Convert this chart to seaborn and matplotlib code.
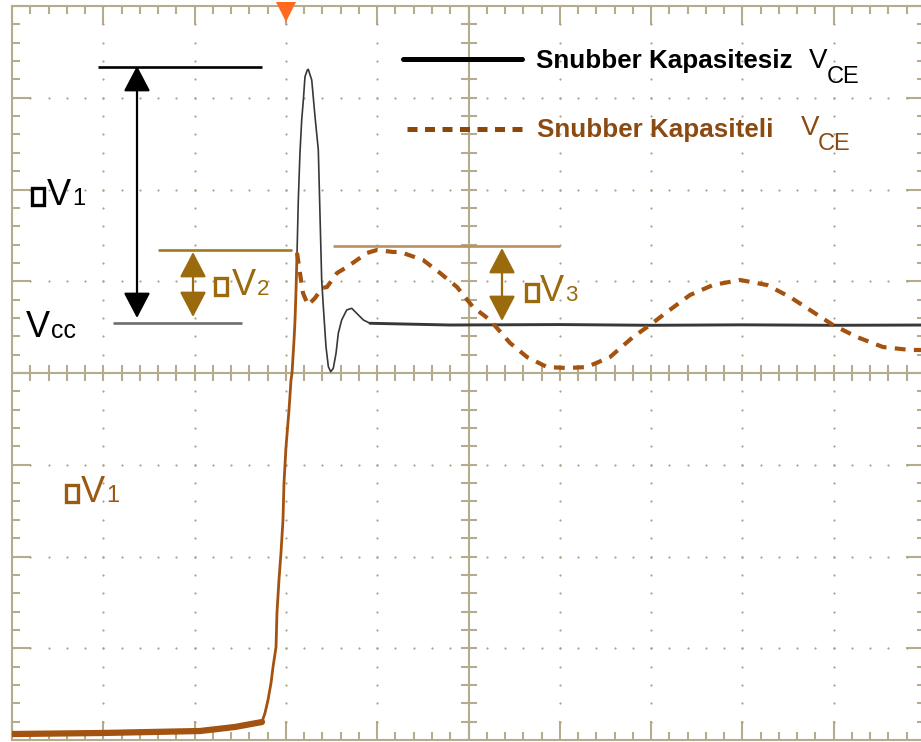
import numpy as np
import pandas as pd
import matplotlib
matplotlib.use("Agg")
import matplotlib.pyplot as plt
from matplotlib.patches import Rectangle
import seaborn as sns

# ---- data (time in screen divisions 0..10, voltage in divisions -4..4) ----
rise_t = [0.000, 0.964, 2.059, 2.442, 2.738, 2.771, 2.804, 2.837, 2.859, 2.892,
          2.902, 2.924, 2.946, 2.968, 2.979, 3.001, 3.034, 3.056, 3.067, 3.089,
          3.100, 3.111, 3.122]
rise_v = [-3.935, -3.924, -3.902, -3.858, -3.804, -3.706, -3.564, -3.379, -3.204, -2.986,
          -2.616, -2.256, -1.962, -1.602, -1.199, -0.807, -0.403, -0.076, 0.000, 0.360,
          0.578, 0.905, 1.308]

# Snubber Kapasitesiz V_CE (black) after the common rise
black_t = [3.136, 3.154, 3.173, 3.191, 3.209, 3.234, 3.245, 3.283, 3.319, 3.355,
           3.373, 3.392, 3.410, 3.439, 3.465, 3.491, 3.519, 3.549, 3.574, 3.611,
           3.666, 3.721, 3.775, 3.848, 3.921]
black_v = [1.886, 2.398, 2.757, 2.975, 3.229, 3.302, 3.310, 3.193, 2.793, 2.431,
           1.741, 1.014, 0.723, 0.287, 0.069, 0.014, 0.051, 0.215, 0.433, 0.578,
           0.687, 0.705, 0.651, 0.578, 0.542]
settled_t = [3.921, 4.797, 6.000, 7.000, 8.000, 9.000, 10.000]
settled_v = [0.542, 0.523, 0.528, 0.520, 0.525, 0.520, 0.523]

# Snubber Kapasiteli V_CE (brown) after the common rise
brown_t = [3.122, 3.154, 3.187, 3.242, 3.319, 3.395, 3.450, 3.560, 3.669, 3.779,
           3.888, 3.998, 4.173, 4.250, 4.502, 4.688, 4.874, 5.049, 5.235, 5.455,
           5.641, 5.860, 6.079, 6.298, 6.550, 6.802, 6.988, 7.174, 7.426, 7.678,
           7.974, 8.270, 8.521, 8.740, 8.992, 9.255, 9.540, 9.836, 10.000]
brown_v = [1.308, 1.090, 0.872, 0.741, 0.817, 0.926, 0.937, 1.090, 1.155, 1.232,
           1.308, 1.341, 1.319, 1.319, 1.232, 1.090, 0.937, 0.719, 0.578, 0.327,
           0.174, 0.065, 0.054, 0.065, 0.174, 0.392, 0.523, 0.665, 0.850, 0.959,
           1.014, 0.959, 0.828, 0.687, 0.523, 0.392, 0.283, 0.251, 0.251]

legend_labels = ["Snubber Kapasitesiz", "Snubber Kapasiteli"]

# ---- style ----
sns.set_style("white")
plt.rcParams["font.family"] = ["Liberation Sans", "DejaVu Sans"]

FRAME = "#b4ac8c"
DOT = "#aaa486"
BROWN = "#a3520f"
LEG_BROWN = "#8c4608"
TXT_BROWN = "#8b4a12"
GOLD = "#9a6a0c"
GOLD_LINE = "#a27a1c"
V3_LINE = "#b8925e"
BLACK = "#383838"

W, H = 921, 742
fig = plt.figure(figsize=(W / 100, H / 100), dpi=100)
fig.patch.set_facecolor("white")
X0, DX = 12.0, 91.3
Y0, DY = 373.0, 91.75
ax = fig.add_axes([X0 / W, (H - 740) / H, 913 / W, 734 / H])
ax.set_xlim(0, 10)
ax.set_ylim(-4, 4)
ax.set_facecolor("white")


def P(px, py):
    return (px - X0) / DX, (Y0 - py) / DY


# frame & ticks
for s in ax.spines.values():
    s.set_color(FRAME)
    s.set_linewidth(1.5)
ax.set_xticks(np.arange(0, 11, 1))
ax.set_yticks(np.arange(-4, 5, 1))
ax.set_xticks(np.arange(0, 10.01, 0.2), minor=True)
ax.set_yticks(np.arange(-4, 4.01, 0.2), minor=True)
ax.tick_params(which="both", direction="in", top=True, right=True, bottom=True, left=True,
               labelbottom=False, labelleft=False, color=FRAME, width=1.5)
ax.tick_params(which="major", length=14)
ax.tick_params(which="minor", length=5.8)

# dotted graticule
fine = np.round(np.arange(-4, 4.01, 0.2), 3)
finex = np.round(np.arange(0, 10.01, 0.2), 3)
for gx in [1, 2, 3, 4, 6, 7, 8, 9]:
    ax.plot(np.full_like(fine, gx), fine, ls="none", marker="o", ms=1.6, color=DOT, mew=0, zorder=1)
for gy in [-3, -2, -1, 1, 2, 3]:
    ax.plot(finex, np.full_like(finex, gy), ls="none", marker="o", ms=1.6, color=DOT, mew=0, zorder=1)

# center cross with ticks
ax.axvline(5, color=FRAME, lw=1.5, zorder=1)
ax.axhline(0, color=FRAME, lw=1.5, zorder=1)
ax.plot(finex, np.zeros_like(finex), ls="none", marker="|", ms=11.5, mew=1.5, color=FRAME, zorder=1)
ax.plot(np.full_like(fine, 5.0), fine, ls="none", marker="_", ms=11.5, mew=1.5, color=FRAME, zorder=1)

# ---- traces (seaborn) ----
df_rise = pd.DataFrame({"t": rise_t, "v": rise_v})
df_black = pd.DataFrame({"t": [rise_t[-1]] + black_t, "v": [rise_v[-1]] + black_v})
df_settled = pd.DataFrame({"t": settled_t, "v": settled_v})
df_brown = pd.DataFrame({"t": brown_t, "v": brown_v})

sns.lineplot(data=df_black, x="t", y="v", ax=ax, color=BLACK, lw=1.2,
             estimator=None, sort=False, legend=False, zorder=3)
sns.lineplot(data=df_settled, x="t", y="v", ax=ax, color=BLACK, lw=2.1,
             estimator=None, sort=False, legend=False, zorder=3)
sns.lineplot(data=df_brown, x="t", y="v", ax=ax, color=BROWN, lw=3.0,
             linestyle=(0, (2.6, 2.0)), estimator=None, sort=False, legend=False, zorder=4)
sns.lineplot(data=df_rise, x="t", y="v", ax=ax, color=BROWN, lw=2.0,
             estimator=None, sort=False, legend=False, zorder=4)
sns.lineplot(data=df_rise.iloc[:5], x="t", y="v", ax=ax, color=BROWN, lw=4.5,
             estimator=None, sort=False, legend=False, zorder=4)
ax.set_xlabel("")
ax.set_ylabel("")


# ---- annotations ----
def hline(x1, x2, y, color, lw=1.9):
    a, b = P(x1, y)
    c, _ = P(x2, y)
    ax.plot([a, c], [b, b], color=color, lw=lw, solid_capstyle="butt", zorder=5)


def darrow(x, y1, y2, color):
    a, b = P(x, y1)
    _, d = P(x, y2)
    ax.annotate("", xy=(a, d), xytext=(a, b),
                arrowprops=dict(arrowstyle="<|-|>,head_length=1.05,head_width=0.55",
                                mutation_scale=15, lw=1.6, color=color,
                                shrinkA=0, shrinkB=0), zorder=5)


def dlabel(px, py, sub, color, box_x, big=26, small=17):
    # box glyph
    bx, by = P(box_x, py)
    bx2, by2 = P(box_x + 12, py - 17)
    ax.add_patch(Rectangle((bx, by), bx2 - bx, by2 - by, fill=False, ec=color, lw=2.4, zorder=6))
    x, y = P(px, py)
    ax.text(x, y, "V", color=color, fontsize=big, va="baseline", ha="left", zorder=6)
    x2, _ = P(px + 25, py)
    ax.text(x2, y, sub, color=color, fontsize=small, va="baseline", ha="left", zorder=6)


hline(98, 262, 66.5, "black", lw=1.9)
hline(113, 242, 323, "#6e6e6e", lw=1.9)
darrow(137, 66, 318, "black")

hline(158, 292, 250, GOLD_LINE, lw=1.9)
darrow(193, 252, 317, GOLD)
hline(333, 560, 246, V3_LINE, lw=1.9)
darrow(502, 248, 321, GOLD)

dlabel(47, 205, "1", "black", 32)
dlabel(232, 295, "2", GOLD, 215, small=16)
dlabel(81, 502, "1", "#9b5a12", 66)
dlabel(540, 301, "3", GOLD, 526, small=16)

# Vcc
x, y = P(26, 337)
ax.text(x, y, "V", fontsize=26, color="black", va="baseline", ha="left", zorder=6)
x, y = P(51, 338)
ax.text(x, y, "cc", fontsize=18, color="black", va="baseline", ha="left", zorder=6)

# legend
a, b = P(403, 59)
c, _ = P(522, 59)
ax.plot([a, c], [b, b], color="black", lw=3.6, solid_capstyle="round", zorder=6)
a, b = P(407, 129)
c, _ = P(522, 129)
ax.plot([a, c], [b, b], color=LEG_BROWN, lw=3.6, linestyle=(0, (2.0, 1.5)), zorder=6)

x, y = P(536, 68)
ax.text(x, y, legend_labels[0], fontsize=18.7, fontweight="bold", color="black",
        va="baseline", ha="left", zorder=6)
x, y = P(809, 68)
ax.text(x, y, "V", fontsize=20, color="black", va="baseline", ha="left", zorder=6)
x, y = P(827, 83)
ax.text(x, y, "CE", fontsize=17, color="black", va="baseline", ha="left", zorder=6)

x, y = P(537, 137)
ax.text(x, y, legend_labels[1], fontsize=18.7, fontweight="bold", color=TXT_BROWN,
        va="baseline", ha="left", zorder=6)
x, y = P(801, 135)
ax.text(x, y, "V", fontsize=20, color=TXT_BROWN, va="baseline", ha="left", zorder=6)
x, y = P(818, 150)
ax.text(x, y, "CE", fontsize=17, color=TXT_BROWN, va="baseline", ha="left", zorder=6)

# trigger marker
x, y = P(286, 12)
ax.plot([x], [y], marker="v", ms=14, color="#ff6a20", mew=0, clip_on=False, zorder=7)

fig.savefig("out.png", dpi=100, facecolor="white")
